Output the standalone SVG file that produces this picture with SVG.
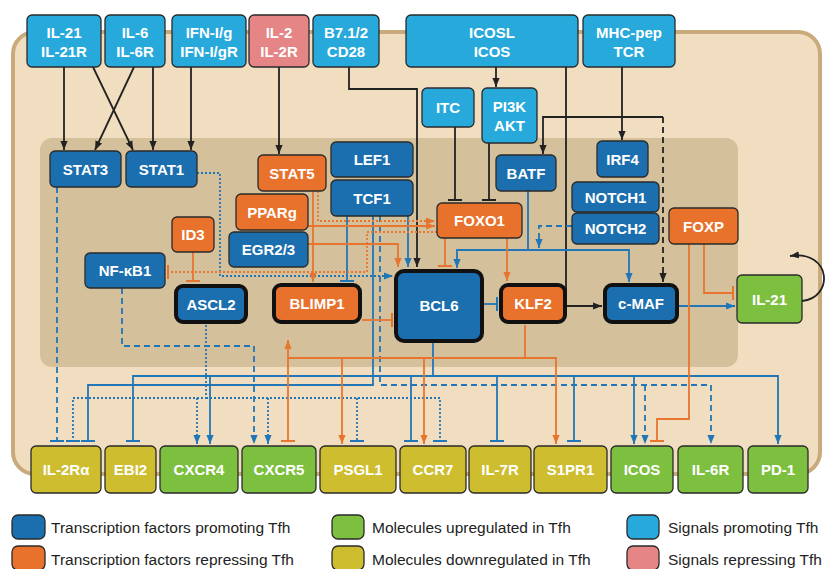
<svg xmlns="http://www.w3.org/2000/svg" width="826" height="569" viewBox="0 0 826 569">
<defs>
<style>
.t{font-family:"Liberation Sans",Arial,sans-serif;font-weight:bold;font-size:15px;fill:#fff;text-anchor:middle}
.lg{font-family:"Liberation Sans",Arial,sans-serif;font-size:15.5px;fill:#222}
.n{stroke:#2a2a2a;stroke-width:1.3}
.k{stroke:#111;stroke-width:4}
.db{fill:#1b6fae}.or{fill:#e8712b}.lb{fill:#27a9dc}.pk{fill:#e58585}.gr{fill:#7dbf3f}.ol{fill:#cdbd2f}
.c{fill:none;stroke-width:1.8}
.bk{stroke:#222}.bl{stroke:#2176b8}.og{stroke:#e8752f}
.ds{stroke-dasharray:6 4}.dt{stroke-dasharray:2 2}
</style>
<marker id="ak" markerUnits="userSpaceOnUse" markerWidth="9" markerHeight="9" viewBox="0 0 10 10" refX="10" refY="5" orient="auto"><path d="M0,1 L10,5 L0,9 z" fill="#222"/></marker>
<marker id="ab" markerUnits="userSpaceOnUse" markerWidth="9" markerHeight="9" viewBox="0 0 10 10" refX="10" refY="5" orient="auto"><path d="M0,1 L10,5 L0,9 z" fill="#2176b8"/></marker>
<marker id="ao" markerUnits="userSpaceOnUse" markerWidth="9" markerHeight="9" viewBox="0 0 10 10" refX="10" refY="5" orient="auto"><path d="M0,1 L10,5 L0,9 z" fill="#e8752f"/></marker>
<marker id="tk" markerUnits="userSpaceOnUse" markerWidth="4" markerHeight="14" viewBox="0 0 4 14" refX="2" refY="7" orient="auto"><path d="M2,0 V14" stroke="#222" stroke-width="2"/></marker>
<marker id="tb" markerUnits="userSpaceOnUse" markerWidth="4" markerHeight="14" viewBox="0 0 4 14" refX="2" refY="7" orient="auto"><path d="M2,0 V14" stroke="#2176b8" stroke-width="2"/></marker>
<marker id="to" markerUnits="userSpaceOnUse" markerWidth="4" markerHeight="14" viewBox="0 0 4 14" refX="2" refY="7" orient="auto"><path d="M2,0 V14" stroke="#e8752f" stroke-width="2"/></marker>
</defs>
<rect width="826" height="569" fill="#fff"/>
<rect x="13" y="32" width="807" height="442" rx="22" fill="#f1dec0" stroke="#c9aa7c" stroke-width="4"/>
<rect x="40" y="138" width="698" height="229" rx="12" fill="#d4c19b"/>

<g id="connectors">
<!-- black -->
<path class="c bk" d="M64,67 V150" marker-end="url(#ak)"/>
<path class="c bk" d="M93,67 L133,150" marker-end="url(#ak)"/>
<path class="c bk" d="M134,67 L95,150" marker-end="url(#ak)"/>
<path class="c bk" d="M153,67 V150" marker-end="url(#ak)"/>
<path class="c bk" d="M191,67 V150" marker-end="url(#ak)"/>
<path class="c bk" d="M279,67 V154" marker-end="url(#ak)"/>
<path class="c bk" d="M349,67 V89 H417 V267" marker-end="url(#ak)"/>
<path class="c bk" d="M496,67 V87" marker-end="url(#ak)"/>
<path class="c bk" d="M566,67 V306 H602" marker-end="url(#ak)"/>
<path class="c bk" d="M622,67 V140" marker-end="url(#ak)"/>
<path class="c bk" d="M663,117 H543 V154" marker-end="url(#ak)"/>
<path class="c bk ds" d="M663,117 V282" marker-end="url(#ak)"/>
<path class="c bk" d="M455,127 V200" marker-end="url(#tk)"/>
<path class="c bk" d="M489,143 V200" marker-end="url(#tk)"/>
<path class="c bk" d="M802,301 C834,298 832,250 790,256" marker-end="url(#ak)"/>
<!-- blue -->
<path class="c bl" d="M528,191 V250 H457 V268" marker-end="url(#ab)"/>
<path class="c bl" d="M528,250 H629 V282" marker-end="url(#ab)"/>
<path class="c bl ds" d="M572,226 H539 V248" marker-end="url(#ab)"/>
<path class="c bl" d="M483,304 H497" marker-end="url(#tb)"/>
<path class="c bl" d="M677,306 H735" marker-end="url(#ab)"/>
<path class="c bl" d="M408,216 V267" marker-end="url(#ab)"/>
<path class="c bl" d="M347,216 V281" marker-end="url(#tb)"/>
<path class="c bl" d="M373,216 V385 H88 V441" marker-end="url(#tb)"/>
<path class="c bl ds" d="M380,216 V385 H711 V444" marker-end="url(#ab)"/>
<path class="c bl ds" d="M645,385 V444" marker-end="url(#ab)"/>
<path class="c bl dt" d="M197,173 H220 V276 H393" marker-end="url(#ab)"/>
<path class="c bl ds" d="M57,187 V441" marker-end="url(#tb)"/>
<path class="c bl ds" d="M122,288 V346 H254 V444" marker-end="url(#ab)"/>
<path class="c bl dt" d="M206,325 V398 H73 V441" marker-end="url(#tb)"/>
<path class="c bl dt" d="M206,398 H440 V441" marker-end="url(#tb)"/>
<path class="c bl dt" d="M197,398 V444" marker-end="url(#ab)"/>
<path class="c bl dt" d="M268,398 V444" marker-end="url(#ab)"/>
<path class="c bl dt" d="M357,398 V441" marker-end="url(#tb)"/>
<path class="c bl" d="M433,343 V376 H133 V441" marker-end="url(#tb)"/>
<path class="c bl" d="M210,376 V444" marker-end="url(#ab)"/>
<path class="c bl" d="M433,376 H778 V444" marker-end="url(#ab)"/>
<path class="c bl" d="M411,376 V441" marker-end="url(#tb)"/>
<path class="c bl" d="M497,376 V441" marker-end="url(#tb)"/>
<path class="c bl" d="M574,376 V441" marker-end="url(#tb)"/>
<path class="c bl" d="M634,376 V444" marker-end="url(#ab)"/>
<!-- orange -->
<path class="c og" d="M313,191 V282" marker-end="url(#ao)"/>
<path class="c og dt" d="M318,191 V221 H435" marker-end="url(#ao)"/>
<path class="c og" d="M308,226 H435" marker-end="url(#ao)"/>
<path class="c og" d="M308,244 H398 V267" marker-end="url(#ao)"/>
<path class="c og dt" d="M437,232 H367 V272 H168" marker-end="url(#to)"/>
<path class="c og" d="M193,252 V281" marker-end="url(#to)"/>
<path class="c og" d="M362,320 H392" marker-end="url(#to)"/>
<path class="c og" d="M445,238 V266" marker-end="url(#to)"/>
<path class="c og" d="M507,238 V281" marker-end="url(#ao)"/>
<path class="c og" d="M704,244 V293 H733" marker-end="url(#to)"/>
<path class="c og" d="M689,244 V419 H657 V441" marker-end="url(#to)"/>
<path class="c og" d="M525,325 V358 H288 V340" marker-end="url(#ao)"/>
<path class="c og" d="M288,358 V441" marker-end="url(#to)"/>
<path class="c og" d="M342,358 V444" marker-end="url(#ao)"/>
<path class="c og" d="M424,358 V444" marker-end="url(#ao)"/>
<path class="c og" d="M525,358 H556 V444" marker-end="url(#ao)"/>
</g>

<g id="n-il21r"><rect class="n lb" x="27" y="15" width="74" height="52" rx="5"/><text class="t" x="64" y="38">IL-21</text><text class="t" x="64" y="57">IL-21R</text></g>
<g id="n-il6r"><rect class="n lb" x="105" y="15" width="60" height="52" rx="5"/><text class="t" x="135" y="38">IL-6</text><text class="t" x="135" y="57">IL-6R</text></g>
<g id="n-ifn"><rect class="n lb" x="172" y="15" width="74" height="52" rx="5"/><text class="t" x="209" y="38">IFN-I/g</text><text class="t" x="209" y="57">IFN-I/gR</text></g>
<g id="n-il2r"><rect class="n pk" x="249" y="15" width="60" height="52" rx="5"/><text class="t" x="279" y="38">IL-2</text><text class="t" x="279" y="57">IL-2R</text></g>
<g id="n-cd28"><rect class="n lb" x="313" y="15" width="66" height="52" rx="5"/><text class="t" x="346" y="38">B7.1/2</text><text class="t" x="346" y="57">CD28</text></g>
<g id="n-icosl"><rect class="n lb" x="406" y="15" width="172" height="52" rx="5"/><text class="t" x="492" y="38">ICOSL</text><text class="t" x="492" y="57">ICOS</text></g>
<g id="n-tcr"><rect class="n lb" x="583" y="15" width="92" height="52" rx="5"/><text class="t" x="629" y="38">MHC-pep</text><text class="t" x="629" y="57">TCR</text></g>
<g id="n-itc"><rect class="n lb" x="422" y="88" width="52" height="39" rx="5"/><text class="t" x="448" y="113">ITC</text></g>
<g id="n-pi3k"><rect class="n lb" x="482" y="88" width="55" height="55" rx="5"/><text class="t" x="509.5" y="112">PI3K</text><text class="t" x="509.5" y="131">AKT</text></g>

<g id="n-stat3"><rect class="n db" x="50" y="151" width="71" height="36" rx="5"/><text class="t" x="85.5" y="174.5">STAT3</text></g>
<g id="n-stat1"><rect class="n db" x="126" y="151" width="71" height="36" rx="5"/><text class="t" x="161.5" y="174.5">STAT1</text></g>
<g id="n-stat5"><rect class="n or" x="258" y="155" width="68" height="36" rx="5"/><text class="t" x="292" y="178.5">STAT5</text></g>
<g id="n-lef1"><rect class="n db" x="331" y="142" width="82" height="35" rx="5"/><text class="t" x="372" y="165">LEF1</text></g>
<g id="n-tcf1"><rect class="n db" x="331" y="180" width="82" height="36" rx="5"/><text class="t" x="372" y="203.5">TCF1</text></g>
<g id="n-pparg"><rect class="n or" x="236" y="194" width="72" height="36" rx="5"/><text class="t" x="272" y="217.5">PPARg</text></g>
<g id="n-egr"><rect class="n db" x="229" y="232" width="79" height="35" rx="5"/><text class="t" x="268.5" y="255">EGR2/3</text></g>
<g id="n-id3"><rect class="n or" x="172" y="217" width="42" height="35" rx="5"/><text class="t" x="193" y="240">ID3</text></g>
<g id="n-nfkb1"><rect class="n db" x="85" y="253" width="80" height="35" rx="5"/><text class="t" x="125" y="276">NF-κB1</text></g>
<g id="n-ascl2"><rect class="k db" x="176" y="286" width="70" height="36" rx="7"/><text class="t" x="211" y="309.5">ASCL2</text></g>
<g id="n-blimp1"><rect class="k or" x="274" y="285" width="86" height="37" rx="7"/><text class="t" x="317" y="309">BLIMP1</text></g>
<g id="n-bcl6"><rect class="k db" x="396" y="271" width="86" height="70" rx="8"/><text class="t" x="439" y="311">BCL6</text></g>
<g id="n-klf2"><rect class="k or" x="501" y="285" width="64" height="37" rx="7"/><text class="t" x="533" y="309">KLF2</text></g>
<g id="n-cmaf"><rect class="k db" x="605" y="285" width="72" height="37" rx="7"/><text class="t" x="641" y="309">c-MAF</text></g>
<g id="n-batf"><rect class="n db" x="496" y="155" width="60" height="36" rx="5"/><text class="t" x="526" y="178.5">BATF</text></g>
<g id="n-foxo1"><rect class="n or" x="437" y="203" width="85" height="35" rx="5"/><text class="t" x="479.5" y="226">FOXO1</text></g>
<g id="n-irf4"><rect class="n db" x="597" y="141" width="51" height="36" rx="5"/><text class="t" x="622.5" y="164.5">IRF4</text></g>
<g id="n-notch1"><rect class="n db" x="572" y="182" width="87" height="30" rx="5"/><text class="t" x="615.5" y="202.5">NOTCH1</text></g>
<g id="n-notch2"><rect class="n db" x="572" y="213" width="87" height="31" rx="5"/><text class="t" x="615.5" y="234">NOTCH2</text></g>
<g id="n-foxp"><rect class="n or" x="669" y="208" width="69" height="36" rx="5"/><text class="t" x="703.5" y="231.5">FOXP</text></g>
<g id="n-il21"><rect class="n gr" x="737" y="275" width="65" height="48" rx="5"/><text class="t" x="769.5" y="304.5">IL-21</text></g>

<g id="n-il2ra"><rect class="n ol" x="31" y="446" width="70" height="47" rx="5"/><text class="t" x="66" y="475">IL-2Rα</text></g>
<g id="n-ebi2"><rect class="n ol" x="105" y="446" width="51" height="47" rx="5"/><text class="t" x="130.5" y="475">EBI2</text></g>
<g id="n-cxcr4"><rect class="n gr" x="160" y="446" width="78" height="47" rx="5"/><text class="t" x="199" y="475">CXCR4</text></g>
<g id="n-cxcr5"><rect class="n gr" x="242" y="446" width="74" height="47" rx="5"/><text class="t" x="279" y="475">CXCR5</text></g>
<g id="n-psgl1"><rect class="n ol" x="320" y="446" width="76" height="47" rx="5"/><text class="t" x="358" y="475">PSGL1</text></g>
<g id="n-ccr7"><rect class="n ol" x="400" y="446" width="66" height="47" rx="5"/><text class="t" x="433" y="475">CCR7</text></g>
<g id="n-il7r"><rect class="n ol" x="469" y="446" width="62" height="47" rx="5"/><text class="t" x="500" y="475">IL-7R</text></g>
<g id="n-s1pr1"><rect class="n ol" x="534" y="446" width="73" height="47" rx="5"/><text class="t" x="570.5" y="475">S1PR1</text></g>
<g id="n-icos"><rect class="n gr" x="611" y="446" width="62" height="47" rx="5"/><text class="t" x="642" y="475">ICOS</text></g>
<g id="n-il6rb"><rect class="n gr" x="678" y="446" width="65" height="47" rx="5"/><text class="t" x="710.5" y="475">IL-6R</text></g>
<g id="n-pd1"><rect class="n gr" x="748" y="446" width="60" height="47" rx="5"/><text class="t" x="778" y="475">PD-1</text></g>

<g id="legend">
<rect class="n db" x="12" y="515" width="33" height="24" rx="6"/><text class="lg" x="51" y="533">Transcription factors promoting Tfh</text>
<rect class="n or" x="12" y="546" width="33" height="24" rx="6"/><text class="lg" x="51" y="565">Transcription factors repressing Tfh</text>
<rect class="n gr" x="332" y="515" width="32" height="24" rx="6"/><text class="lg" x="372" y="533">Molecules upregulated in Tfh</text>
<rect class="n ol" x="332" y="546" width="32" height="24" rx="6"/><text class="lg" x="372" y="565">Molecules downregulated in Tfh</text>
<rect class="n lb" x="627" y="515" width="32" height="24" rx="6"/><text class="lg" x="668" y="533">Signals promoting Tfh</text>
<rect class="n pk" x="627" y="546" width="32" height="24" rx="6"/><text class="lg" x="668" y="565">Signals repressing Tfh</text>
</g>
</svg>
